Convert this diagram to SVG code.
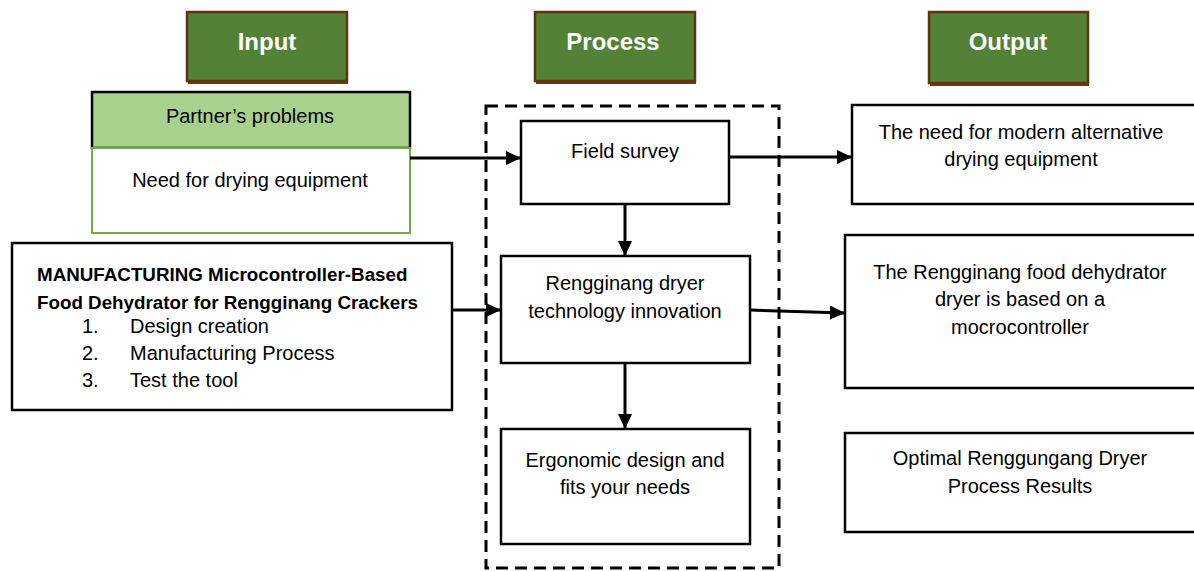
<svg xmlns="http://www.w3.org/2000/svg" width="1194" height="571" viewBox="0 0 1194 571">
<style>
.hdr{fill:#538135;stroke:#5e3412;stroke-width:2.5}
.shd{fill:#6b3a14}
.ht{font-family:"Liberation Sans",Arial,sans-serif;font-weight:bold;font-size:24px;fill:#fff;text-anchor:middle}
.box{fill:#fff;stroke:#000;stroke-width:2.5}
.t{font-family:"Liberation Sans",Arial,sans-serif;font-size:20px;fill:#000;text-anchor:middle}
.tl{font-family:"Liberation Sans",Arial,sans-serif;font-size:20px;fill:#000}
.tb{font-family:"Liberation Sans",Arial,sans-serif;font-size:18.8px;font-weight:bold;fill:#000}
.c{stroke:#000;stroke-width:3;fill:none}
</style>
<defs>
<marker id="ah" viewBox="0 0 15 14" refX="15" refY="7" markerWidth="15" markerHeight="14" markerUnits="userSpaceOnUse" orient="auto">
<path d="M0,0 L15,7 L0,14 z" fill="#000"/>
</marker>
</defs>
<rect width="1194" height="571" fill="#fff"/>

<g id="hdr-input">
<rect class="shd" x="188" y="14" width="160" height="70"/>
<rect class="hdr" x="187" y="12" width="160" height="69"/>
<text class="ht" x="267" y="50">Input</text>
</g>
<g id="hdr-process">
<rect class="shd" x="536" y="14" width="160" height="70"/>
<rect class="hdr" x="535" y="12" width="160" height="69"/>
<text class="ht" x="613" y="50">Process</text>
</g>
<g id="hdr-output">
<rect class="shd" x="930" y="14" width="159" height="72"/>
<rect class="hdr" x="929" y="12" width="159" height="71"/>
<text class="ht" x="1008" y="50">Output</text>
</g>

<g id="process-frame">
<rect x="486" y="106" width="293" height="462" fill="none" stroke="#000" stroke-width="3" stroke-dasharray="12 7"/>
</g>

<g id="partner">
<rect x="92" y="92" width="318" height="56" fill="#a9d18e" stroke="#000" stroke-width="2.5"/>
<rect x="92" y="148" width="318" height="85" fill="#fff" stroke="#70ad47" stroke-width="2"/>
<text class="t" x="250" y="123">Partner’s problems</text>
<text class="t" x="250" y="187">Need for drying equipment</text>
</g>

<g id="manufacturing">
<rect class="box" x="12" y="243" width="440" height="167"/>
<text class="tb" x="37" y="281">MANUFACTURING Microcontroller-Based</text>
<text class="tb" x="37" y="309">Food Dehydrator for Rengginang Crackers</text>
<text class="tl" x="82" y="333">1.</text><text class="tl" x="130" y="333">Design creation</text>
<text class="tl" x="82" y="360">2.</text><text class="tl" x="130" y="360">Manufacturing Process</text>
<text class="tl" x="82" y="387">3.</text><text class="tl" x="130" y="387">Test the tool</text>
</g>

<g id="field-survey">
<rect class="box" x="521" y="121" width="208" height="83"/>
<text class="t" x="625" y="158">Field survey</text>
</g>
<g id="innovation">
<rect class="box" x="501" y="256" width="249" height="107"/>
<text class="t" x="625" y="290">Rengginang dryer</text>
<text class="t" x="625" y="318">technology innovation</text>
</g>
<g id="ergonomic">
<rect class="box" x="501" y="429" width="249" height="115"/>
<text class="t" x="625" y="467">Ergonomic design and</text>
<text class="t" x="625" y="494">fits your needs</text>
</g>

<g id="out-need">
<rect class="box" x="852" y="105" width="360" height="99"/>
<text class="t" x="1021" y="139">The need for modern alternative</text>
<text class="t" x="1021" y="166">drying equipment</text>
</g>
<g id="out-dryer">
<rect class="box" x="845" y="235" width="367" height="153"/>
<text class="t" x="1020" y="279">The Rengginang food dehydrator</text>
<text class="t" x="1020" y="306">dryer is based on a</text>
<text class="t" x="1020" y="334">mocrocontroller</text>
</g>
<g id="out-optimal">
<rect class="box" x="845" y="433" width="367" height="99"/>
<text class="t" x="1020" y="465">Optimal Renggungang Dryer</text>
<text class="t" x="1020" y="493">Process Results</text>
</g>

<g id="connectors">
<line class="c" x1="410" y1="158" x2="521" y2="158" marker-end="url(#ah)"/>
<line class="c" x1="452" y1="310" x2="501" y2="310" marker-end="url(#ah)"/>
<line class="c" x1="729" y1="157" x2="852" y2="157" marker-end="url(#ah)"/>
<line class="c" x1="750" y1="310" x2="845" y2="313" marker-end="url(#ah)"/>
<line class="c" x1="625" y1="204" x2="625" y2="256" marker-end="url(#ah)"/>
<line class="c" x1="625" y1="363" x2="625" y2="429" marker-end="url(#ah)"/>
</g>
</svg>
